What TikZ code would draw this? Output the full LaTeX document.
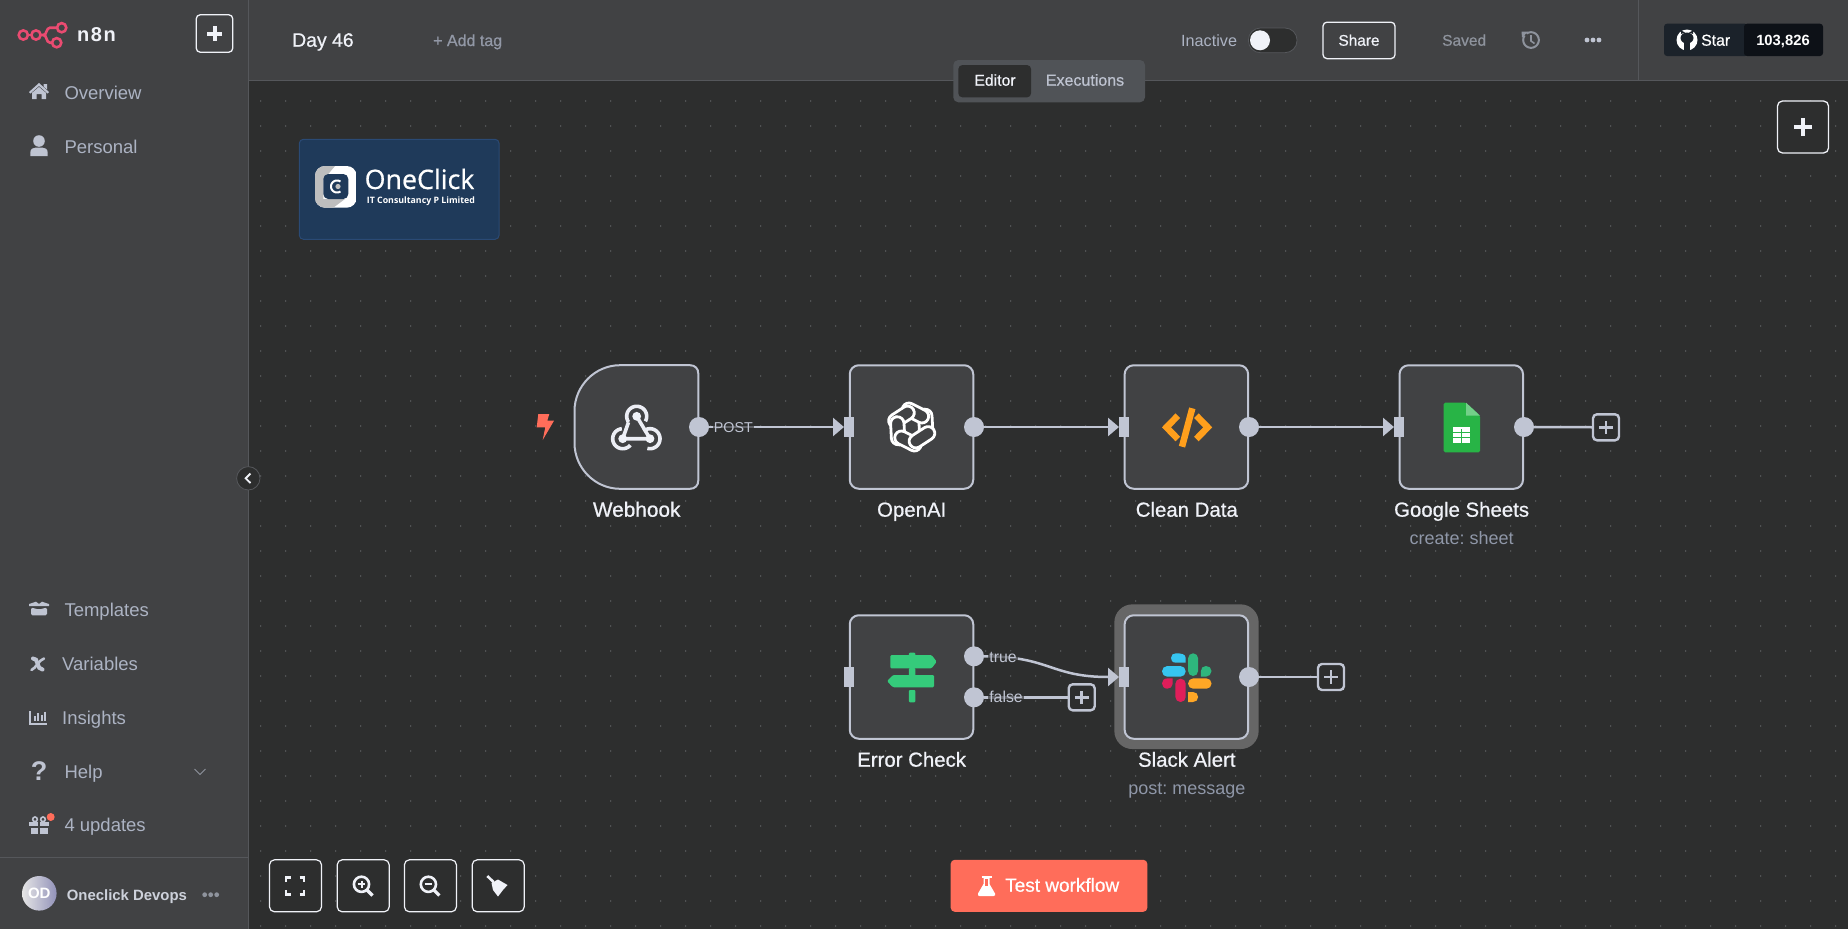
\documentclass[tikz,border=0pt]{standalone}
\usepackage{fontspec}
\setmainfont{Liberation Sans}
\newfontfamily\logofont{Open Sans}
\newfontfamily\logomed[FakeBold=0.7]{Open Sans}
\newfontfamily\medfont[FakeBold=0.7]{Liberation Sans}
\usetikzlibrary{arrows.meta}
\definecolor{canvas}{HTML}{2D2E2E}
\definecolor{panel}{HTML}{414244}
\definecolor{edge}{HTML}{C0C5D3}
\definecolor{rule}{HTML}{55575B}
\definecolor{dotc}{HTML}{7F8185}
\definecolor{side}{HTML}{ACB3C3}
\definecolor{bright}{HTML}{F0F2F8}
\definecolor{muted}{HTML}{8E939D}
\definecolor{sub}{HTML}{8F97A8}
\definecolor{coral}{HTML}{FF6D5A}
\definecolor{pink}{HTML}{EA4B71}
\definecolor{icon}{HTML}{BFC4D2}
\definecolor{slackb}{HTML}{36C5F0}
\definecolor{slackg}{HTML}{2EB67D}
\definecolor{slackr}{HTML}{E01E5A}
\definecolor{slacky}{HTML}{FFA726}
\definecolor{signg}{HTML}{35CB7B}
\definecolor{codeo}{HTML}{FF9F1C}
\definecolor{sheetg}{HTML}{28B446}
\definecolor{sheetl}{HTML}{73D089}
\definecolor{ghdark}{HTML}{1B222A}
\definecolor{ghblack}{HTML}{0D1117}
\definecolor{tabbar}{HTML}{505357}
\definecolor{navy}{HTML}{1F3A5A}
\definecolor{navyline}{HTML}{2A4A75}
\definecolor{halo}{HTML}{666666}
\definecolor{logogrey}{HTML}{BEBEBE}
\newcommand{\pxf}[1]{\fontsize{#1}{#1}\selectfont}
\newcommand{\arcpx}[5]{plot[domain=#4:#5,samples=40,smooth] ({#1+#3*cos(\x)},{#2-#3*sin(\x)})}
\frenchspacing
\tikzset{
  flow/.style={draw=edge,fill=panel,line width=2pt,rounded corners=9pt,minimum width=123.5pt,minimum height=123.5pt,inner sep=0pt,outer sep=0pt},
  outport/.style={circle,fill=edge,minimum size=20pt,inner sep=0pt,outer sep=0pt},
  inport/.style={rectangle,fill=edge,minimum width=10pt,minimum height=20pt,inner sep=0pt,outer sep=0pt},
  addbtn/.style={draw=edge,fill=canvas,line width=2.4pt,rounded corners=4pt,minimum size=26pt,inner sep=0pt,outer sep=0pt},
  link/.style={draw=edge,line width=2.5pt},
  linkarrow/.style={link,-{Triangle[length=11pt,width=18pt]}},
  toolbtn/.style={draw=bright,fill=canvas,line width=1.2pt,rounded corners=5pt,minimum width=52pt,minimum height=52pt,inner sep=0pt,outer sep=0pt},
  nodetitle/.style={text=bright,font=\medfont\pxf{20.4},inner sep=0pt,anchor=base},
  nodesub/.style={text=sub,font=\pxf{18},inner sep=0pt,anchor=base},
  linktext/.style={text=edge,fill=canvas,fill opacity=.65,text opacity=1,inner sep=1pt,anchor=base},
  sidetext/.style={anchor=base west,inner sep=0pt,text=side,font=\pxf{18.5}},
  ui/.style={inner sep=0pt},
  tbicon/.style={draw=bright,line width=2.4pt},
}
\begin{document}
\begin{tikzpicture}[x=1pt,y=-1pt]
\useasboundingbox (0,0) rectangle (1848,929);
% backgrounds
\fill[canvas] (0,0) rectangle (1848,929);
\foreach \i in {0,...,63}{\foreach \j in {0,...,33}{
  \fill[dotc] ({260.7+25*\i},{101+25*\j}) circle[radius=.65pt];}}
\fill[panel] (0,0) rectangle (248,929);
\fill[panel] (248,0) rectangle (1848,80);
\draw[rule,line width=1pt] (248,0) -- (248,929);
\draw[rule,line width=1pt] (248,80.5) -- (1848,80.5);
\draw[rule,line width=1pt] (1638,0) -- (1638,80);
\draw[rule,line width=1pt] (0,857) -- (248,857);

% n8n logo
\begin{scope}[draw=pink,line width=2.6pt]
\draw (23.3,35) circle[radius=4.6pt];
\draw (36,35) circle[radius=4.6pt];
\draw (61.7,27.7) circle[radius=4.6pt];
\draw (56.7,42.7) circle[radius=4.6pt];
\draw (28,35) -- (31.3,35);
\draw (40.7,35) -- (43.5,35) .. controls (47,35) and (46,27.7) .. (50,27.7) -- (57,27.7);
\draw (43.5,35) .. controls (47,35) and (46,42.7) .. (50,42.7) -- (52,42.7);
\end{scope}
\node[ui,text=bright,font=\pxf{20}\bfseries,anchor=base west] (brand) at (77,41) {n\kern1.5pt 8\kern1.5pt n};
\node[draw=bright,line width=1.3pt,rounded corners=4pt,minimum width=36.5pt,minimum height=37.5pt,inner sep=0pt] (newbtn) at (214.5,33.5) {};
\draw[bright,line width=4pt] ([xshift=-7.5pt]newbtn.center) -- ([xshift=7.5pt]newbtn.center);
\draw[bright,line width=4pt] ([yshift=-7.5pt]newbtn.center) -- ([yshift=7.5pt]newbtn.center);

% sidebar items
\node[sidetext] (overview) at (64.3,99.5) {Overview};
\node[sidetext] (personal) at (64.3,153.5) {Personal};
\node[sidetext] (templates) at (64.3,616.2) {Templates};
\node[sidetext] (variables) at (62,670.2) {Variables};
\node[sidetext] (insights) at (62,724.2) {Insights};
\node[sidetext] (help) at (64.3,778.2) {Help};
\node[sidetext] (updates) at (64.3,831.6) {4 updates};
\node[ui,anchor=base west,text=side!60!white,font=\pxf{14.9}\bfseries] (user) at (66.7,900.7) {Oneclick Devops};
% home
\fill[icon] (29,92) -- (39,83) -- (49,92) -- (47.7,93.6) -- (39,86) -- (30.3,93.6) -- cycle;
\fill[icon] (43.5,84) -- (47,84) -- (47,89.5) -- (43.5,86.5) -- cycle;
\fill[icon] (32,92.8) -- (39,87) -- (46,92.8) -- (46,99) -- (41.5,99) -- (41.5,94) -- (36.5,94) -- (36.5,99) -- (32,99) -- cycle;
% person
\fill[icon] (39,141) circle[radius=5.8pt];
\fill[icon] (30.3,156) -- (30.3,152.5) .. controls (30.3,149) and (33,147.5) .. (36,147.5) -- (42,147.5) .. controls (45,147.5) and (47.7,149) .. (47.7,152.5) -- (47.7,156) -- cycle;
% templates box
\fill[icon] (29,604) -- (36,601.7) -- (39,604) -- (42,601.7) -- (49,604) -- (49,606) -- (29,606) -- cycle;
\fill[icon,rounded corners=1.5pt] (31,607.5) -- (39,609.5) -- (47,607.5) -- (47,615.3) -- (31,615.3) -- cycle;
% variables
\draw[icon,line width=4pt,line cap=round] (33,658.5) .. controls (38.5,657) and (36.5,670) .. (42.5,669.5);
\draw[icon,line width=2.6pt,line cap=round] (44,658.5) .. controls (39,660) and (36,668) .. (31.5,670);
% insights
\draw[icon,line width=2pt] (30,711) -- (30,723.5) -- (46.5,723.5);
\draw[icon,line width=2pt] (34.5,716) -- (34.5,721);
\draw[icon,line width=2pt] (38,713) -- (38,721);
\draw[icon,line width=2pt] (41.5,715) -- (41.5,721);
\draw[icon,line width=2pt] (45,711.5) -- (45,721);
% help
\node[ui,anchor=base,text=icon,font=\pxf{27}\bfseries] (helpmark) at (39,780.5) {?};
\draw[muted,line width=1pt] (194.5,769) -- (200,774.5) -- (205.5,769);
% gift
\fill[icon] (29,822) rectangle (38,826);
\fill[icon] (40,822) rectangle (49,826);
\fill[icon] (30.5,827.5) rectangle (38,833.7);
\fill[icon] (40,827.5) rectangle (48,833.7);
\draw[icon,line width=1.6pt] (35,819.3) circle[radius=2.3pt];
\draw[icon,line width=1.6pt] (43,819.3) circle[radius=2.3pt];
\fill[coral] (50.7,817) circle[radius=4pt];
% avatar
\shade[left color=white!80!gray,right color=blue!22!gray!70!white] (39.3,893.3) circle[radius=17.3pt];
\node[ui,text=white,font=\pxf{15}\bfseries] (avatar) at (39.3,893.3) {OD};
\foreach \dx in {-6,0,6}{\fill[muted] ({210.7+\dx},894.7) circle[radius=2.4pt];}
% collapse button
\draw[rule,fill=canvas,line width=.8pt] (248.3,478.3) circle[radius=11.7pt];
\draw[bright,line width=1.8pt] (250.5,473.5) -- (245.7,478.3) -- (250.5,483);

% header
\node[ui,anchor=base west,text=bright,font=\medfont\pxf{19.4}] (title) at (292,46.7) {Day 46};
\node[ui,anchor=base west,text=side!85!black,font=\medfont\pxf{16}] (addtag) at (433,46) {+ Add tag};
\node[ui,anchor=base west,text=side,font=\pxf{16.2}] (inactive) at (1181,46.5) {Inactive};
\fill[canvas,draw=rule,line width=.8pt,rounded corners=12pt] (1248.4,28) rectangle (1297,52.7);
\fill[bright] (1260,40.3) circle[radius=10pt];
\node[draw=bright,line width=1.3pt,rounded corners=4pt,minimum width=72pt,minimum height=36.5pt,inner sep=0pt] (share) at (1359,40.4) {};
\node[ui,anchor=base,text=bright,font=\medfont\pxf{15.4}] (sharetext) at (1359,45.7) {Share};
\node[ui,anchor=base west,text=muted,font=\medfont\pxf{15.5}] (saved) at (1442,45.7) {Saved};
\draw[muted,line width=2pt] \arcpx{1531}{40}{7.8}{-215}{125};
\fill[muted] (1521.5,31.5) -- (1528,31.5) -- (1522,37.5) -- cycle;
\draw[muted,line width=1.6pt] (1531,35) -- (1531,41) -- (1534.5,43.5);
\foreach \dx in {-6,0,6}{\fill[icon] ({1593+\dx},40) circle[radius=2.4pt];}
% github star
\fill[ghdark,rounded corners=3pt] (1664,23.7) rectangle (1748,56);
\fill[ghblack,rounded corners=3pt] (1744,23.7) rectangle (1823,56);
\fill[ghdark] (1740,23.7) rectangle (1744,56);
\fill[white] (1687,40) circle[radius=10.5pt];
\fill[ghdark] (1687,38) ellipse[x radius=6.5pt,y radius=5.5pt];
\fill[ghdark] (1681,34) -- (1681,30.5) -- (1685,32.5) -- cycle;
\fill[ghdark] (1693,34) -- (1693,30.5) -- (1689,32.5) -- cycle;
\fill[ghdark] (1683.8,41) rectangle (1690.2,50.8);
\node[ui,anchor=base west,text=white,font=\medfont\pxf{15.8}] (star) at (1701,45.7) {Star};
\node[ui,anchor=base,text=white,font=\pxf{14.8}\bfseries] (count) at (1783,45.2) {103,826};
% tabs
\fill[tabbar,rounded corners=5pt] (953.3,60) rectangle (1145,102.3);
\node[fill=canvas,rounded corners=4pt,minimum width=72.7pt,minimum height=32.3pt,inner sep=0pt] (editorbg) at (994.7,81.2) {};
\node[ui,anchor=base,text=bright,font=\medfont\pxf{15.8}] (editor) at (995,85.7) {Editor};
\node[ui,anchor=base,text=side!80!white,font=\medfont\pxf{16}] (executions) at (1085,85.7) {Executions};
% canvas plus
\node[draw=bright,fill=canvas,line width=1.3pt,rounded corners=5pt,minimum width=51pt,minimum height=52pt,inner sep=0pt] (canvasadd) at (1803,127) {};
\draw[bright,line width=4pt] ([xshift=-9pt]canvasadd.center) -- ([xshift=9pt]canvasadd.center);
\draw[bright,line width=4pt] ([yshift=-9pt]canvasadd.center) -- ([yshift=9pt]canvasadd.center);

% sticky logo
\node[draw=navyline,fill=navy,line width=1pt,rounded corners=4pt,minimum width=199.7pt,minimum height=100pt,inner sep=0pt] (sticky) at (399.2,189.3) {};
\begin{scope}
\clip[rounded corners=10pt] (315,166) rectangle (356.7,207.7);
\fill[white] (315,166) rectangle (356.7,207.7);
\fill[logogrey] (315,166) -- (335,166) -- (323.3,180) -- (323.3,199) -- (345,199) -- (333.3,207.7) -- (315,207.7) -- cycle;
\end{scope}
\fill[navy,rounded corners=5pt] (323.3,174) rectangle (348.3,199);
\draw[white,line width=2pt] \arcpx{337}{186.5}{6}{55}{305};
\fill[logogrey] (338,186.5) circle[radius=2.6pt];
\node[ui,anchor=base west,text=white,font=\logomed\pxf{26.8}] (oneclick) at (364.5,189) {OneClick};
\node[ui,anchor=base west,text=white,font=\logofont\pxf{8.8}\bfseries] (oneclicksub) at (366.7,203.3) {IT Consultancy P Limited};

% bolt
\fill[coral] (538.3,414) -- (549.3,414) -- (547.3,420.7) -- (554,420.7) -- (542.7,440) -- (545.3,427.3) -- (536.7,427.3) -- cycle;

% workflow nodes
\node[minimum width=123.8pt,minimum height=123.5pt,inner sep=0pt,outer sep=0pt] (webhook) at (636.4,427) {};
\draw[draw=edge,fill=panel,line width=2pt] (620,365.2) -- (690,365.2) .. controls (695,365.2) and (698.3,368.5) .. (698.3,373.5) -- (698.3,480.5) .. controls (698.3,485.5) and (695,488.8) .. (690,488.8) -- (620,488.8) .. controls (595,488.8) and (574.5,468) .. (574.5,443) -- (574.5,411) .. controls (574.5,386) and (595,365.2) .. (620,365.2) -- cycle;
\node[flow] (openai) at (911.5,427) {};
\node[flow] (clean) at (1186.4,427) {};
\node[flow] (sheets) at (1461.3,427) {};
\node[flow] (errorcheck) at (911.5,677) {};
\node[fill=halo,rounded corners=18pt,minimum width=144.3pt,minimum height=144.7pt,inner sep=0pt] (slackhalo) at (1186.5,676.7) {};
\node[flow] (slack) at (1186.4,677) {};

\node[nodetitle,font=\medfont\pxf{20.8}] (webhooklabel) at (636.7,516.7) {Webhook};
\node[nodetitle] (openailabel) at (911.7,516.7) {OpenAI};
\node[nodetitle] (cleanlabel) at (1186.8,516.7) {Clean Data};
\node[nodetitle] (sheetslabel) at (1461.6,516.7) {Google Sheets};
\node[nodesub] (sheetssub) at (1461.6,544.3) {create: sheet};
\node[nodetitle] (errorlabel) at (911.6,766.7) {Error Check};
\node[nodetitle] (slacklabel) at (1186.8,766.7) {Slack Alert};
\node[nodesub] (slacksub) at (1186.8,794.3) {post: message};

% ports
\node[outport] (webhookout) at (699,427) {};
\node[inport] (openaiin) at (849,427) {};
\node[outport] (openaiout) at (974,427) {};
\node[inport] (cleanin) at (1124,427) {};
\node[outport] (cleanout) at (1249,427) {};
\node[inport] (sheetsin) at (1399,427) {};
\node[outport] (sheetsout) at (1524,427) {};
\node[addbtn] (sheetsadd) at (1606,427.3) {};
\node[inport] (errorin) at (849,677) {};
\node[outport] (trueout) at (974,656.3) {};
\node[outport] (falseout) at (974,697.3) {};
\node[addbtn] (falseadd) at (1081.7,697.3) {};
\node[inport] (slackin) at (1124,677) {};
\node[outport] (slackout) at (1249,677) {};
\node[addbtn] (slackadd) at (1331,677) {};

% connectors
\draw[linkarrow] (webhookout) -- (openaiin);
\draw[linkarrow] (openaiout) -- (cleanin);
\draw[linkarrow] (cleanout) -- (sheetsin);
\draw[link] (sheetsout) -- (sheetsadd);
\draw[linkarrow] (trueout.east) .. controls (1050,656.3) and (1050,677) .. (slackin.west);
\draw[link] (falseout) -- (falseadd);
\draw[link] (slackout) -- (slackadd);
\node[linktext,font=\pxf{14.3}] (postlabel) at (733.3,432.6) {POST};
\node[linktext,font=\pxf{15.8}] (truelabel) at (1003,662) {true};
\node[linktext,font=\pxf{15.8}] (falselabel) at (1006,702.6) {false};
\foreach \n in {sheetsadd,falseadd,slackadd}{
  \draw[edge,line width=2.8pt] ([xshift=-6.8pt]\n.center) -- ([xshift=6.8pt]\n.center);
  \draw[edge,line width=2.8pt] ([yshift=-6.8pt]\n.center) -- ([yshift=6.8pt]\n.center);
}

% webhook icon
\begin{scope}[draw=bright!92!edge,line width=3.6pt]
\draw (636.7,416.3) -- (650,438.7) -- (622.7,438.7);
\draw (622.7,438.7) -- (628.5,422.3);
\draw \arcpx{636.7}{416.3}{10}{-30}{215};
\draw \arcpx{622.7}{438.7}{10}{95}{320};
\draw \arcpx{650}{438.7}{10}{-105}{130};
\end{scope}
\fill[bright] (636.7,416.3) circle[radius=4.4pt];
\fill[bright] (622.7,438.7) circle[radius=4.4pt];
\fill[bright] (650,438.7) circle[radius=4.4pt];

% openai icon
\foreach \a in {15,75,...,315}{
  \draw[white,fill=panel,line width=2.8pt,rounded corners=6.7pt,shift={(911.7,427)},rotate=\a,shift={(14.5,0)},rotate=78] (-14,-6.7) rectangle (14,6.7);
}

% code icon
\draw[codeo,line width=6.5pt] (1177.8,415.7) -- (1166.5,427.3) -- (1177.8,439);
\draw[codeo,line width=6.5pt] (1196.4,415.7) -- (1207.7,427.3) -- (1196.4,439);
\draw[codeo,line width=6.5pt] (1192.3,408.3) -- (1182,446.7);

% sheets icon
\fill[sheetg,rounded corners=1.5pt] (1443.7,402.7) -- (1466,402.7) -- (1480,415.7) -- (1480,452.3) -- (1443.7,452.3) -- cycle;
\fill[sheetl] (1466,402.7) -- (1480,415.7) -- (1466,415.7) -- cycle;
\fill[white] (1453,427) rectangle (1470,442.7);
\draw[sheetg,line width=1.1pt] (1453,432.3) -- (1470,432.3);
\draw[sheetg,line width=1.1pt] (1453,437.5) -- (1470,437.5);
\draw[sheetg,line width=1.1pt] (1461.5,429) -- (1461.5,442.7);

% signpost icon
\fill[signg,rounded corners=1pt] (908.9,652.7) rectangle (915.4,658);
\fill[signg,rounded corners=1pt] (908.9,668) rectangle (915.4,677);
\fill[signg,rounded corners=1pt] (908.9,690) rectangle (915.4,702.3);
\fill[signg,rounded corners=1.2pt] (890.3,655) -- (931.6,655) -- (936.7,661.7) -- (931.6,668.3) -- (890.3,668.3) -- cycle;
\fill[signg,rounded corners=1.2pt] (893,675) -- (934,675) -- (934,687.3) -- (893,687.3) -- (887,681.2) -- cycle;

% slack icon
\fill[slackb,rounded corners=5.3pt] (1162,666) rectangle (1185.7,676.7);
\fill[slackb] (1176,653.3) .. controls (1181,653.3) and (1185.7,654) .. (1185.7,658) -- (1185.7,662.7) -- (1176,662.7) .. controls (1172,662.7) and (1171,660) .. (1171,658) .. controls (1171,655) and (1173,653.3) .. (1176,653.3) -- cycle;
\fill[slackg,rounded corners=5pt] (1188.1,653.3) rectangle (1198.1,676);
\fill[slackg] (1200.9,676.7) -- (1200.9,671) .. controls (1200.9,668) and (1203,666) .. (1206,666) .. controls (1209,666) and (1211.5,668) .. (1211.5,671) .. controls (1211.5,674) and (1209,676.7) .. (1206,676.7) -- cycle;
\fill[slackr,rounded corners=5pt] (1175.4,678.7) rectangle (1185.7,702);
\fill[slackr] (1172.6,678.4) -- (1172.6,684) .. controls (1172.6,687) and (1170,688.7) .. (1167.3,688.7) .. controls (1164,688.7) and (1162,686) .. (1162,683.5) .. controls (1162,680.5) and (1164,678.4) .. (1167.3,678.4) -- cycle;
\fill[slacky,rounded corners=5pt] (1188.1,678.4) rectangle (1211.5,688.7);
\fill[slacky] (1188.1,692) -- (1193,692) .. controls (1196,692) and (1198.1,694) .. (1198.1,697) .. controls (1198.1,700) and (1196,702) .. (1193,702) -- (1188.1,702) -- cycle;

% toolbar buttons
\node[toolbtn] (fitbtn) at (295.5,885.8) {};
\node[toolbtn] (inbtn) at (363.2,885.8) {};
\node[toolbtn] (outbtn) at (430.4,885.8) {};
\node[toolbtn] (broombtn) at (498.2,885.8) {};
\node[fill=coral,rounded corners=4pt,minimum width=196.6pt,minimum height=52pt,inner sep=0pt] (testbtn) at (1049,885.8) {};
\node[ui,anchor=base west,text=white,font=\medfont\pxf{19}] (testtext) at (1005,891.7) {Test workflow};
% fit icon
\draw[tbicon] (286,882) -- (286,877.5) -- (290.5,877.5);
\draw[tbicon] (299.5,877.5) -- (304,877.5) -- (304,882);
\draw[tbicon] (286,890) -- (286,894.5) -- (290.5,894.5);
\draw[tbicon] (299.5,894.5) -- (304,894.5) -- (304,890);
% zoom in
\draw[draw=bright,line width=2.6pt] (361.5,884.3) circle[radius=7.6pt];
\draw[draw=bright,line width=3.2pt] (367,890) -- (372.5,895.5);
\draw[draw=bright,line width=2pt] (357.7,884.3) -- (365.3,884.3);
\draw[draw=bright,line width=2pt] (361.5,880.5) -- (361.5,888.1);
% zoom out
\draw[draw=bright,line width=2.6pt] (428.4,884.3) circle[radius=7.6pt];
\draw[draw=bright,line width=3.2pt] (433.9,890) -- (439.4,895.5);
\draw[draw=bright,line width=2pt] (424.6,884.3) -- (432.2,884.3);
% broom
\draw[draw=bright,line width=2.6pt] (487.3,876) -- (493.5,882);
\fill[bright] (491.5,883) -- (498,879.5) -- (507.5,885) -- (503,890) -- (498,896.5) -- (493,890) -- cycle;
% flask
\fill[white] (983.5,877) -- (989.5,877) -- (989.5,884) -- (995,893.5) .. controls (995.5,895) and (995,896) .. (993.5,896) -- (979.5,896) .. controls (978,896) and (977.5,895) .. (978,893.5) -- (983.5,884) -- cycle;
\draw[white,line width=2pt] (981.5,877) -- (991.5,877);
\fill[coral] (985.3,879) rectangle (987.7,886);
\end{tikzpicture}
\end{document}
